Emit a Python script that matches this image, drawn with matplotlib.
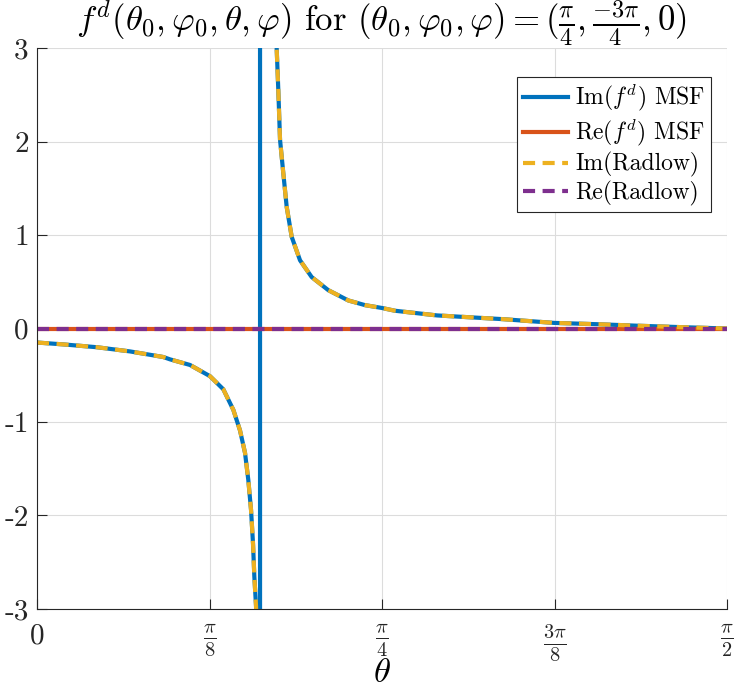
import numpy as np
import matplotlib
matplotlib.use("Agg")
import matplotlib.pyplot as plt

# values (theta in rad)
theta_left = [0.000, 0.0599, 0.1359, 0.2117, 0.2875, 0.3028, 0.3483, 0.3938, 0.4241, 0.4469,
              0.4621, 0.4735, 0.4810, 0.4872, 0.4917, 0.4947, 0.4986, 0.5020]
im_left = [-0.15, -0.17, -0.20, -0.245, -0.305, -0.33, -0.39, -0.51, -0.65, -0.87,
           -1.09, -1.33, -1.62, -1.94, -2.30, -2.65, -2.97, -3.6]
theta_right = [0.5430, 0.5457, 0.5493, 0.5532, 0.5607, 0.5684, 0.5798, 0.5987, 0.6253, 0.6631,
               0.7087, 0.7467, 0.7847, 0.8150, 0.9106, 0.9857, 1.0609, 1.1770, 1.2817, 1.3659,
               1.4638, 1.5708]
im_right = [3.4, 2.98, 2.55, 2.02, 1.66, 1.30, 0.98, 0.73, 0.55, 0.41,
            0.30, 0.25, 0.22, 0.19, 0.14, 0.12, 0.10, 0.06, 0.045, 0.03,
            0.015, 0.0]
theta_pole = 0.5077
pole_jump = [-1000.0, 1000.0]
theta_ends = [0.0, np.pi / 2]
re_vals = [0.0, 0.0]

labels = [r'$\mathrm{Im}(f^d)$ MSF', r'$\mathrm{Re}(f^d)$ MSF', 'Im(Radlow)', 'Re(Radlow)']
xtick_vals = [0, np.pi / 8, np.pi / 4, 3 * np.pi / 8, np.pi / 2]
xtick_labels = ['0', r'$\frac{\pi}{8}$', r'$\frac{\pi}{4}$', r'$\frac{3\pi}{8}$', r'$\frac{\pi}{2}$']
ytick_vals = [-3, -2, -1, 0, 1, 2, 3]
ytick_labels = ['-3', '-2', '-1', '0', '1', '2', '3']

plt.rcParams['font.family'] = 'serif'
plt.rcParams['font.serif'] = ['cmr10']
plt.rcParams['mathtext.fontset'] = 'cm'
plt.rcParams['axes.unicode_minus'] = False

BLUE = '#0072BD'
ORANGE = '#D95319'
YELLOW = '#EDB120'
PURPLE = '#7E2F8E'
AX = '#262626'

fig = plt.figure(figsize=(7.36, 6.9), dpi=100)
ax = fig.add_axes([0.0503, 0.1174, 0.9375, 0.813])

blue_x = theta_left + [theta_pole, theta_pole] + theta_right
blue_y = im_left + pole_jump + im_right
ax.plot(blue_x, blue_y, color=BLUE, lw=3, label=labels[0], solid_joinstyle='round')
ax.plot(theta_ends, re_vals, color=ORANGE, lw=3, label=labels[1])
ax.plot(theta_left, im_left, color=YELLOW, lw=3, ls='--', dashes=(2.9, 1.8), label=labels[2])
ax.plot(theta_right, im_right, color=YELLOW, lw=3, ls='--', dashes=(2.9, 1.8))
ax.plot(theta_ends, re_vals, color=PURPLE, lw=3, ls='--', dashes=(2.9, 1.8), label=labels[3])

ax.set_xlim(0, np.pi / 2)
ax.set_ylim(-3, 3)
ax.set_xticks(xtick_vals)
ax.set_xticklabels(xtick_labels)
ax.set_yticks(ytick_vals)
ax.set_yticklabels(ytick_labels)
ax.tick_params(direction='in', length=7, width=0.8, color=AX, labelcolor=AX, labelsize=21)
ax.tick_params(axis='x', pad=10)
ax.tick_params(axis='y', pad=6)

for s in ['top', 'right']:
    ax.spines[s].set_visible(False)
for s in ['left', 'bottom']:
    ax.spines[s].set_color(AX)
    ax.spines[s].set_linewidth(0.8)

ax.grid(True, color='#dcdcdc', lw=0.8)
ax.set_axisbelow(True)

ax.set_title(r'$f^d(\theta_0,\varphi_0,\theta,\varphi)$ for $(\theta_0,\varphi_0,\varphi)=(\frac{\pi}{4},\frac{-3\pi}{4},0)$',
             fontsize=25, pad=4)
ax.set_xlabel(r'$\theta$', fontsize=25, labelpad=-5)

leg = ax.legend(loc='upper right', bbox_to_anchor=(0.977, 0.948), fontsize=17, fancybox=False,
                framealpha=1, edgecolor=AX, handlelength=1.9, handletextpad=0.3,
                labelspacing=0.15, borderpad=0.25, borderaxespad=0)
leg.get_frame().set_linewidth(0.8)

fig.savefig('out.png', dpi=100)
